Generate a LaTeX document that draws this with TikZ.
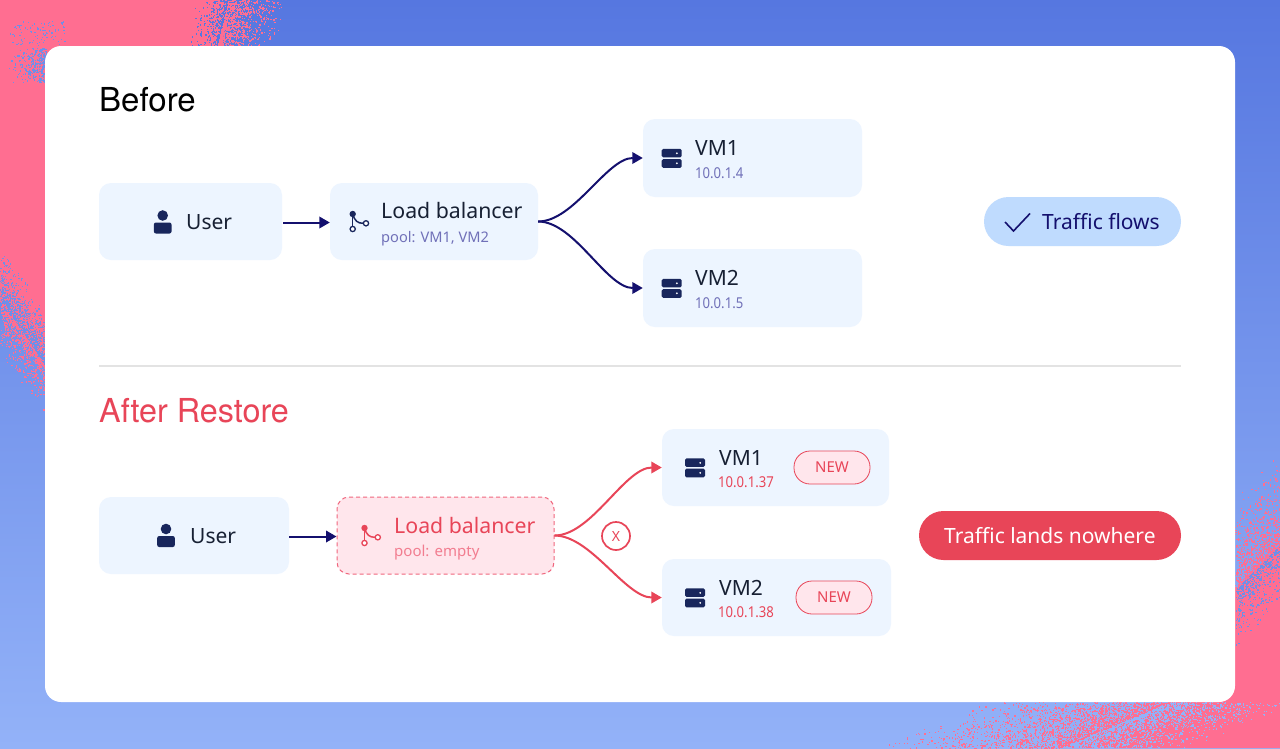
\documentclass[tikz,border=0pt]{standalone}
\usepackage{fontspec}
\setmainfont{Noto Sans}
\newfontfamily\headfont{TeX Gyre Heros}
\newfontfamily\headnarrow[FakeStretch=0.98]{TeX Gyre Heros}
\newfontfamily\ipfont[FakeStretch=0.875]{Noto Sans}
\usetikzlibrary{arrows.meta}
\definecolor{bgtop}{HTML}{5677E0}
\definecolor{bgbot}{HTML}{93B2F8}
\definecolor{bgmid}{HTML}{6F8FE8}
\definecolor{pinkc}{HTML}{FF6E91}
\definecolor{boxc}{HTML}{EDF5FF}
\definecolor{inkc}{HTML}{172033}
\definecolor{iconc}{HTML}{18265C}
\definecolor{arrowc}{HTML}{14106E}
\definecolor{subc}{HTML}{7070B8}
\definecolor{redc}{HTML}{E84558}
\definecolor{redl}{HTML}{FFE6EC}
\definecolor{redm}{HTML}{F27D90}
\definecolor{dashc}{HTML}{F0667D}
\definecolor{pillb}{HTML}{BFDBFE}
\definecolor{rulec}{HTML}{E3E3E3}
\newcommand{\fs}[1]{\fontsize{#1}{#1}\selectfont}
% y is drawn first, x may use \yy
\newcommand{\speckle}[4]{%
  \foreach \i in {1,...,#2}{%
    \pgfmathsetmacro\yy{#4}%
    \pgfmathsetmacro\xx{#3}%
    \fill[#1] (\xx,\yy) rectangle ++(1.25,1.25);}}
% x is drawn first, y may use \xx
\newcommand{\specklex}[4]{%
  \foreach \i in {1,...,#2}{%
    \pgfmathsetmacro\xx{#3}%
    \pgfmathsetmacro\yy{#4}%
    \fill[#1] (\xx,\yy) rectangle ++(1.25,1.25);}}
\newcommand{\usericon}[3]{%
  \fill[#3] (#1,#2-7) circle (5.3);
  \fill[#3,rounded corners=2] (#1-8.8,#2) rectangle (#1+8.8,#2+11);}
\newcommand{\servericon}[3]{%
  \fill[#3,rounded corners=1.5] (#1-10,#2-9.5) rectangle (#1+10,#2-0.9);
  \fill[#3,rounded corners=1.5] (#1-10,#2+0.9) rectangle (#1+10,#2+9.5);
  \fill[white] (#1+5.2,#2-5) circle (1);
  \fill[white] (#1+5.2,#2+5) circle (1);}
\newcommand{\forkicon}[3]{%
  \draw[#3,line width=1.5pt] (#1,#2) -- (#1,#2+12.5);
  \draw[#3,line width=1.5pt] (#1,#2) .. controls (#1+2,#2+7) and (#1+5,#2+9.3) .. (#1+10.5,#2+9.3);
  \fill[#3] (#1,#2) circle (3.2);
  \draw[#3,line width=1.3pt,fill=white] (#1,#2+15) circle (2.6);
  \draw[#3,line width=1.3pt,fill=white] (#1+13.3,#2+9.3) circle (2.6);}
\tikzset{
  x=1pt,y=-1pt,
  boxn/.style={fill=boxc,rounded corners=12pt,inner sep=0pt,draw=none},
  lbl/.style={anchor=base west,inner sep=0pt,text=inkc,font=\fs{21}},
  lblb/.style={anchor=base west,inner sep=0pt,text=inkc,font=\fs{21.3}},
  sublbl/.style={anchor=base west,inner sep=0pt,text=subc,font=\fs{15}},
  iplbl/.style={anchor=base west,inner sep=0pt,text=subc,font=\ipfont\fs{15}},
  flow/.style={draw=arrowc,line width=2pt,-{Triangle[length=10.5pt,width=11.5pt]}},
  redflow/.style={draw=redc,line width=2pt,-{Triangle[length=10.5pt,width=11.5pt]}},
  newpill/.style={draw=redc,fill=redl,line width=0.8pt,rounded corners=16pt,inner sep=0pt,minimum width=76pt,minimum height=33pt,text=redc,font=\fs{15}},
  head/.style={anchor=base west,inner sep=0pt,font=\headfont\fs{33}},
}
\begin{document}
\begin{tikzpicture}
\useasboundingbox (0,0) rectangle (1280,748);
% background
\shade[top color=bgtop,bottom color=bgbot,shading angle=0] (0,0) rectangle (1280,748);
\fill[pinkc] (0,0) -- (228,0) -- (222,50) -- (50,372.5) -- (0,300) -- cycle;
\fill[pinkc] (1280,545) -- (1235,590) -- (1170,702) -- (1060,748) -- (1280,748) -- cycle;
\pgfmathsetseed{7}
% top edge
\speckle{pinkc}{900}{228-\yy*0.25+60*rnd*rnd}{50*rnd}
\speckle{bgtop}{350}{228-\yy*0.25-32*rnd*rnd}{50*rnd}
% top-left blue specks
\speckle{bgmid}{340}{46-38*rnd*rnd}{48+34*rnd}
\speckle{bgmid}{90}{10+55*rnd}{45-25*rnd}
% left edge
\specklex{bgmid}{900}{46*rnd}{300+\xx*1.45-58*rnd*rnd}
\specklex{pinkc}{650}{46*rnd}{300+\xx*1.45+55*rnd*rnd}
% right edge
\specklex{pinkc}{950}{1235+45*rnd}{590-(\xx-1235)-95*rnd*rnd}
\specklex{bgmid}{500}{1235+45*rnd}{590-(\xx-1235)+60*rnd*rnd}
% bottom edge
\speckle{pinkc}{1900}{1170-(\yy-702)*2.4-190*rnd*rnd}{702+46*rnd}
\speckle{bgbot}{1700}{1170-(\yy-702)*2.4+130*rnd*rnd}{702+46*rnd}
% card
\fill[white,rounded corners=16pt] (45,46) rectangle (1235,702);

% ---------- Before
\node[head,text=black] (t1) at (99,111) {Before};
\node[boxn,minimum width=183pt,minimum height=77pt] (user1) at (190.5,221.5) {};
\node[boxn,minimum width=208pt,minimum height=77pt] (lb1) at (434,221.5) {};
\node[boxn,minimum width=219pt,minimum height=78pt] (vma) at (752.5,158) {};
\node[boxn,minimum width=219pt,minimum height=78pt] (vmb) at (752.5,288) {};
\usericon{162.7}{222.5}{iconc}
\node[lbl] (u1t) at (186,229.5) {User};
\forkicon{352.7}{214}{iconc}
\node[lblb] (lb1t) at (381,218.5) {Load balancer};
\node[sublbl,font=\fs{14.6}] (lb1s) at (381,242) {pool: VM1, VM2};
\servericon{671.7}{158.3}{iconc}
\node[lbl] (vmat) at (695,155.5) {VM1};
\node[iplbl] (vmas) at (695,178) {10.0.1.4};
\servericon{671.7}{288.3}{iconc}
\node[lbl] (vmbt) at (695,285.5) {VM2};
\node[iplbl] (vmbs) at (695,308) {10.0.1.5};
\draw[flow] (user1.east) ++(1,1) coordinate (u1s) (u1s) -- (lb1.west |- u1s);
\draw[flow] (lb1.east) to[out=0,in=180,looseness=0.75] (vma.west);
\draw[flow] (lb1.east) to[out=0,in=180,looseness=0.75] (vmb.west);
\node[fill=pillb,rounded corners=24.5pt,inner sep=0pt,minimum width=197pt,minimum height=49pt] (ok) at (1082.5,221.5) {};
\draw[arrowc,line width=1.6pt] (1005,222) -- (1013.5,231) -- (1030,213.5);
\node[lbl,text=arrowc] (okt) at (1042,229) {Traffic flows};

% divider
\coordinate (ra) at (99,366);
\coordinate (rb) at (1181,366);
\draw[rulec,line width=1.6pt] (ra) -- (rb);

% ---------- After
\node[head,text=redc,font=\headnarrow\fs{33}] (t2) at (99,422) {After Restore};
\node[boxn,minimum width=190pt,minimum height=77pt] (user2) at (194,535.5) {};
\node[draw=dashc,fill=redl,dash pattern=on 4pt off 3pt,line width=1pt,rounded corners=12pt,inner sep=0pt,minimum width=217pt,minimum height=77pt] (lb2) at (445.5,535.5) {};
\node[boxn,minimum width=227pt,minimum height=77pt] (vmc) at (775.5,467.5) {};
\node[boxn,minimum width=229pt,minimum height=77pt] (vmd) at (776.5,597.5) {};
\usericon{166}{536}{iconc}
\node[lbl] (u2t) at (190,543.5) {User};
\forkicon{364.5}{528}{redc}
\node[lblb,text=redc] (lb2t) at (394,533) {Load balancer};
\node[sublbl,text=redm] (lb2s) at (394,556) {pool: empty};
\servericon{695}{467.8}{iconc}
\node[lbl] (vmct) at (719,465) {VM1};
\node[iplbl,text=redc] (vmcs) at (718,487) {10.0.1.37};
\node[newpill] (n1) at (832,467.5) {\raisebox{-0.5pt}{NEW}};
\servericon{695}{597.8}{iconc}
\node[lbl] (vmdt) at (719,595) {VM2};
\node[iplbl,text=redc] (vmds) at (718,617) {10.0.1.38};
\node[newpill] (n2) at (834,597.5) {\raisebox{-0.5pt}{NEW}};
\draw[flow] (user2.east) ++(0,1) coordinate (u2s) (u2s) -- (lb2.west |- u2s);
\draw[redflow] (lb2.east) to[out=0,in=180,looseness=0.75] (vmc.west);
\draw[redflow] (lb2.east) to[out=0,in=180,looseness=0.75] (vmd.west);
\node[circle,draw=redc,fill=white,line width=1.7pt,minimum size=28pt,inner sep=0pt,text=redc,font=\fs{14}] (xm) at (616,536) {X};
\node[fill=redc,rounded corners=24.5pt,inner sep=0pt,minimum width=262pt,minimum height=49pt] (bad) at (1050,535.5) {};
\node[lbl,text=white] (badt) at (944,543.5) {Traffic lands nowhere};
\end{tikzpicture}
\end{document}
